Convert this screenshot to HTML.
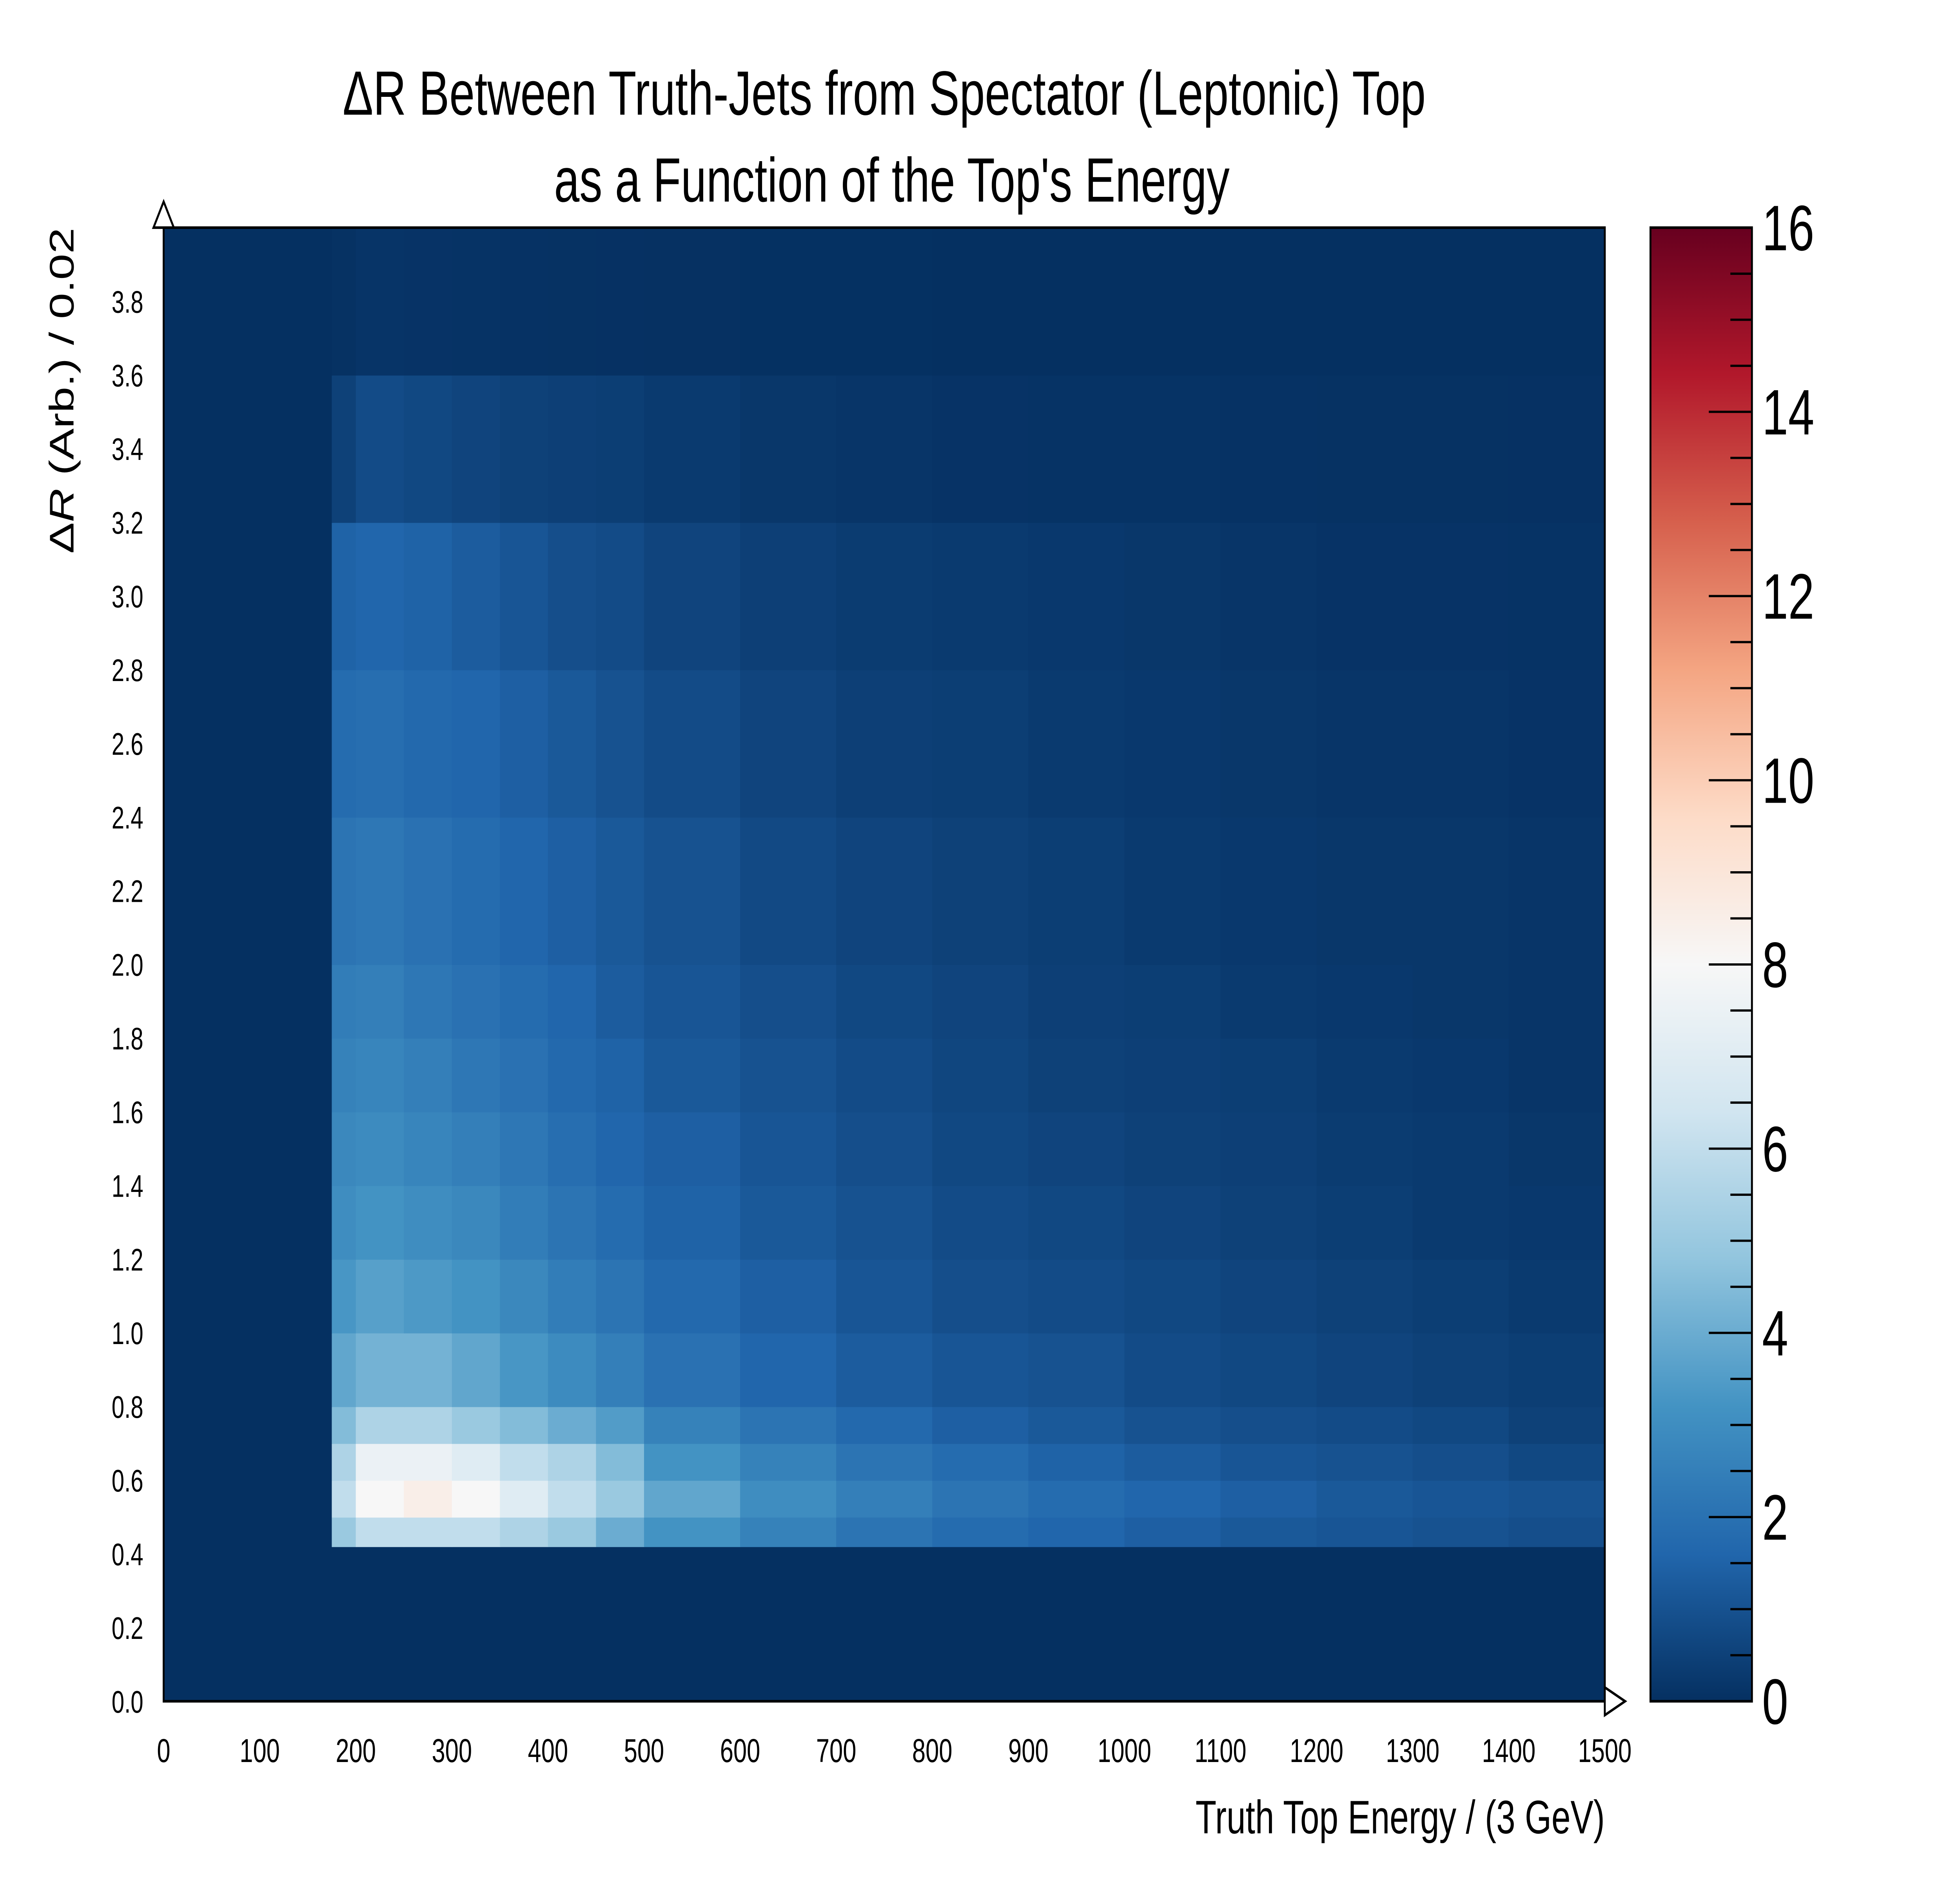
<!DOCTYPE html>
<html><head><meta charset="utf-8">
<style>html,body{margin:0;padding:0;background:#fff;width:100vw;height:100vh;overflow:hidden}svg{display:block;width:100vw;height:100vh}text{font-family:"Liberation Sans",sans-serif}</style>
</head><body>
<svg id="chart" xmlns="http://www.w3.org/2000/svg" style="width:100vw;height:100vh" viewBox="0 0 1545 1083" preserveAspectRatio="none">
<defs>
<linearGradient id="cmap" x1="0" y1="1" x2="0" y2="0">
<stop offset="0" stop-color="#053061"/><stop offset="0.1" stop-color="#2166ac"/><stop offset="0.2" stop-color="#4393c3"/><stop offset="0.3" stop-color="#92c5de"/><stop offset="0.4" stop-color="#d1e5f0"/><stop offset="0.5" stop-color="#f7f7f7"/><stop offset="0.6" stop-color="#fddbc7"/><stop offset="0.7" stop-color="#f4a582"/><stop offset="0.8" stop-color="#d6604d"/><stop offset="0.9" stop-color="#b2182b"/><stop offset="1" stop-color="#67001f"/>
</linearGradient>
</defs>
<text x="697" y="66" font-size="36" text-anchor="middle">ΔR Between Truth-Jets from Spectator (Leptonic) Top</text>
<text x="703" y="116" font-size="36" text-anchor="middle">as a Function of the Top's Energy</text>
<rect x="129" y="131" width="1136" height="848" fill="#053061"/>
<g id="cells"></g>
<rect x="129" y="131" width="1136" height="848" fill="none" stroke="#000" stroke-width="1.5"/>
<g id="xticks"></g>
<g id="yticks"></g>
<polygon points="121,131 137,131 129,116" fill="#fff" stroke="#000" stroke-width="1.5"/>
<polygon points="1265,971 1265,987 1281,979" fill="#fff" stroke="#000" stroke-width="1.5"/>
<text x="1265" y="1055" font-size="27" text-anchor="end">Truth Top Energy / (3 GeV)</text>
<text transform="translate(58,131) rotate(-90)" font-size="27" text-anchor="end">Δ<tspan font-style="italic">R</tspan> (Arb.) / 0.02</text>
<rect x="1301" y="131" width="80" height="848" fill="url(#cmap)" stroke="#000" stroke-width="1.5"/>
<g id="cbticks"></g>
</svg>
<script>
const xEdges=[0,175,200,250,300,350,400,450,500,600,700,800,900,1000,1100,1200,1300,1400,1500];
const yEdges=[0,0.42,0.5,0.6,0.7,0.8,1.0,1.2,1.4,1.6,1.8,2.0,2.4,2.8,3.2,3.6,4.0];
const values=[
[0,0,0,0,0,0,0,0,0,0,0,0,0,0,0,0,0,0],
[0,5,6,6,6,5.5,5,4,3.2,2.6,2.1,1.8,1.6,1.4,1.2,1.1,1,0.9],
[0,6,8,8.5,8,7,6,5,3.8,3,2.5,2.1,1.8,1.6,1.4,1.2,1.1,1],
[0,5.5,7.5,7.5,7,6,5.5,4.5,3.2,2.6,2.1,1.8,1.5,1.3,1.1,1,0.9,0.7],
[0,4.5,5.5,5.5,5,4.5,4,3.5,2.6,2.1,1.7,1.4,1.2,1,0.9,0.8,0.7,0.5],
[0,3.8,4.2,4.2,3.8,3.3,2.9,2.5,2,1.6,1.3,1.1,1,0.8,0.7,0.6,0.5,0.4],
[0,3.3,3.6,3.4,3.2,2.8,2.4,2.1,1.7,1.4,1.1,0.9,0.8,0.7,0.6,0.5,0.4,0.3],
[0,3,3.2,3,2.8,2.4,2.1,1.8,1.5,1.2,1,0.8,0.7,0.6,0.5,0.4,0.3,0.25],
[0,2.8,2.9,2.7,2.5,2.2,1.9,1.6,1.4,1.1,0.9,0.7,0.6,0.5,0.45,0.35,0.3,0.2],
[0,2.6,2.7,2.5,2.2,2,1.7,1.5,1.2,1,0.8,0.65,0.5,0.45,0.4,0.3,0.25,0.15],
[0,2.4,2.5,2.2,2,1.8,1.6,1.3,1.1,0.9,0.7,0.6,0.45,0.4,0.3,0.25,0.2,0.15],
[0,2.1,2.2,2,1.8,1.6,1.4,1.2,1,0.75,0.6,0.5,0.4,0.3,0.25,0.2,0.2,0.15],
[0,1.8,1.9,1.7,1.6,1.4,1.2,1,0.8,0.6,0.45,0.4,0.3,0.25,0.2,0.15,0.15,0.1],
[0,1.5,1.6,1.5,1.3,1.1,0.9,0.8,0.6,0.45,0.35,0.3,0.25,0.2,0.15,0.1,0.1,0.08],
[0,0.5,0.8,0.7,0.6,0.5,0.45,0.4,0.3,0.2,0.15,0.1,0.08,0.08,0.07,0.05,0.05,0.04],
[0,0.05,0.12,0.1,0.08,0.06,0.05,0.04,0.03,0.02,0.02,0.01,0.01,0.01,0,0,0,0]];
const xTickLabels=["0","100","200","300","400","500","600","700","800","900","1000","1100","1200","1300","1400","1500"];
const yTickLabels=["0.0","0.2","0.4","0.6","0.8","1.0","1.2","1.4","1.6","1.8","2.0","2.2","2.4","2.6","2.8","3.0","3.2","3.4","3.6","3.8"];
const cbTickLabels=["0","2","4","6","8","10","12","14","16"];
const NS="http://www.w3.org/2000/svg";
const X0=129,X1=1265,Y0=979,Y1=131;
const xs=v=>X0+(v/1500)*(X1-X0);
const ys=v=>Y0-(v/4)*(Y0-Y1);
const cs=v=>979-(v/16)*848;
const stops=[[5,48,97],[33,102,172],[67,147,195],[146,197,222],[209,229,240],[247,247,247],[253,219,199],[244,165,130],[214,96,77],[178,24,43],[103,0,31]];
function color(v){let t=Math.max(0,Math.min(1,v/16))*10;let i=Math.min(9,Math.floor(t)),f=t-i;const a=stops[i],b=stops[i+1];return `rgb(${a.map((c,k)=>Math.round(c+(b[k]-c)*f)).join(',')})`;}
const cells=document.getElementById('cells');
for(let j=0;j<values.length;j++)for(let i=0;i<values[j].length;i++){
 const r=document.createElementNS(NS,'rect');
 
 
 const x=xs(xEdges[i]),w=xs(xEdges[i+1])-x,y=ys(yEdges[j+1]),h=ys(yEdges[j])-y;
 r.setAttribute('x',x);r.setAttribute('y',y);r.setAttribute('width',w+0.3);r.setAttribute('height',h+0.3);
 r.setAttribute('fill',color(values[j][i]));cells.appendChild(r);}
const xg=document.getElementById('xticks');
xTickLabels.forEach(l=>{const t=document.createElementNS(NS,'text');
 
 
 t.setAttribute('x',xs(+l));t.setAttribute('y',1014);t.setAttribute('font-size','19');t.setAttribute('text-anchor','middle');t.textContent=l;xg.appendChild(t);});
const yg=document.getElementById('yticks');
yTickLabels.forEach(l=>{const t=document.createElementNS(NS,'text');
 
 
 t.setAttribute('x',113);t.setAttribute('y',ys(+l)+6.5);t.setAttribute('font-size','18');t.setAttribute('text-anchor','end');t.textContent=l;yg.appendChild(t);});
const cg=document.getElementById('cbticks');
for(let k=0;k<=32;k++){const v=k*0.5;const ln=document.createElementNS(NS,'line');
 
 
 const major=k%4===0;ln.setAttribute('x1',major?1347:1364);ln.setAttribute('x2',1381);ln.setAttribute('y1',cs(v));ln.setAttribute('y2',cs(v));ln.setAttribute('stroke','#000');ln.setAttribute('stroke-width','1.3');cg.appendChild(ln);}
cbTickLabels.forEach(l=>{const t=document.createElementNS(NS,'text');
 
 
 t.setAttribute('x',1389);t.setAttribute('y',cs(+l)+13);t.setAttribute('font-size','37');t.textContent=l;cg.appendChild(t);});
</script>
</body></html>
